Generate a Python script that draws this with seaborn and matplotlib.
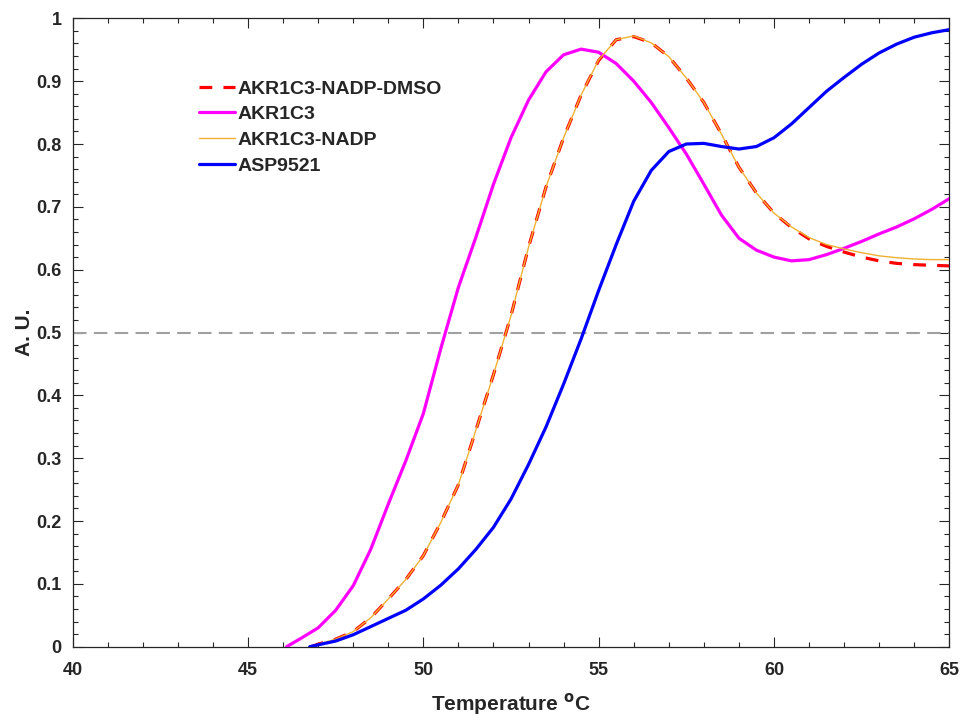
import numpy as np
import pandas as pd
import matplotlib
matplotlib.use('Agg')
import matplotlib.pyplot as plt
import seaborn as sns
from matplotlib.ticker import MultipleLocator

# temperature grid (deg C), 0.5 steps
grid = [47.0, 47.5, 48.0, 48.5, 49.0, 49.5, 50.0, 50.5, 51.0, 51.5, 52.0, 52.5,
        53.0, 53.5, 54.0, 54.5, 55.0, 55.5, 56.0, 56.5, 57.0, 57.5, 58.0, 58.5,
        59.0, 59.5, 60.0, 60.5, 61.0, 61.5, 62.0, 62.5, 63.0, 63.5, 64.0, 64.5, 65.0]

t_akr = [46.1, 46.5] + grid
akr1c3 = [0.0, 0.013, 0.03, 0.058, 0.097, 0.155, 0.227, 0.296, 0.371, 0.475, 0.572, 0.652,
          0.736, 0.81, 0.87, 0.915, 0.942, 0.951, 0.946, 0.928, 0.9, 0.866, 0.826, 0.784,
          0.736, 0.687, 0.65, 0.631, 0.62, 0.614, 0.616, 0.624, 0.634, 0.645, 0.657, 0.668,
          0.681, 0.696, 0.713]

t_nadp = [46.8] + grid
akr1c3_nadp = [0.0, 0.004, 0.012, 0.024, 0.046, 0.076, 0.107, 0.145, 0.198, 0.258, 0.345,
               0.433, 0.527, 0.636, 0.732, 0.81, 0.878, 0.934, 0.966, 0.972, 0.961, 0.939,
               0.905, 0.866, 0.816, 0.763, 0.722, 0.69, 0.668, 0.651, 0.64, 0.633, 0.627,
               0.622, 0.619, 0.617, 0.616, 0.616]

akr1c3_nadp_dmso = [0.0, 0.004, 0.012, 0.024, 0.046, 0.076, 0.107, 0.145, 0.198, 0.258, 0.345,
                    0.433, 0.527, 0.636, 0.732, 0.81, 0.878, 0.933, 0.966, 0.971, 0.961, 0.939,
                    0.905, 0.866, 0.816, 0.763, 0.722, 0.69, 0.667, 0.649, 0.637, 0.628, 0.62,
                    0.614, 0.61, 0.608, 0.607, 0.606]

t_asp = [46.76] + grid
asp9521 = [0.0, 0.003, 0.009, 0.019, 0.032, 0.045, 0.058, 0.076, 0.098, 0.124, 0.155, 0.19,
           0.235, 0.29, 0.35, 0.418, 0.49, 0.567, 0.64, 0.709, 0.758, 0.788, 0.8, 0.801,
           0.796, 0.792, 0.796, 0.81, 0.832, 0.858, 0.884, 0.906, 0.927, 0.945, 0.959, 0.97,
           0.977, 0.982]

sns.set_style('ticks')
plt.rcParams['font.family'] = ['Liberation Sans', 'DejaVu Sans']
plt.rcParams['font.weight'] = 'bold'

fig = plt.figure(figsize=(9.63, 7.16), dpi=100)
ax = fig.add_axes([0.0755, 0.0968, 0.9103, 0.8776])

ink = '#262626'
ax.axhline(0.5, color='#a0a0a0', lw=1.5, dashes=(6.5, 3.5), zorder=1)

sns.lineplot(x=t_nadp, y=akr1c3_nadp_dmso, ax=ax, color='#ff0000', lw=2.3,
             label='AKR1C3-NADP-DMSO', zorder=2).lines[-1].set_dashes((4, 3.5))
sns.lineplot(x=t_akr, y=akr1c3, ax=ax, color='#ff00ff', lw=2.3, label='AKR1C3', zorder=3)
sns.lineplot(x=t_nadp, y=akr1c3_nadp, ax=ax, color='#f0b032', lw=1.0, label='AKR1C3-NADP', zorder=4)
sns.lineplot(x=t_asp, y=asp9521, ax=ax, color='#0000ff', lw=2.3, label='ASP9521', zorder=5)

ax.set_xlim(40, 65)
ax.set_ylim(0, 1)
ax.set_xticks([40, 45, 50, 55, 60, 65])
ax.set_yticks(np.round(np.arange(0, 1.01, 0.1), 1))
ax.set_yticklabels(['0', '0.1', '0.2', '0.3', '0.4', '0.5', '0.6', '0.7', '0.8', '0.9', '1'])
ax.xaxis.set_minor_locator(MultipleLocator(1))
ax.yaxis.set_minor_locator(MultipleLocator(0.02))
ax.tick_params(which='both', direction='in', top=True, right=True, color=ink,
               labelcolor=ink, labelsize=13, width=0.8)
ax.tick_params(which='major', length=7)
ax.tick_params(which='minor', length=3.5)
ax.tick_params(axis='x', which='major', pad=11)
ax.tick_params(axis='y', which='major', pad=8)
for s in ax.spines.values():
    s.set_color(ink)
    s.set_linewidth(0.9)

ax.set_xlabel('Temperature $^{\\mathbf{o}}$C', fontsize=15, fontweight='bold', color=ink, labelpad=9)
ax.set_ylabel('A. U.', fontsize=15, fontweight='bold', color=ink, labelpad=2)

leg = ax.legend(loc='upper left', bbox_to_anchor=(0.144, 0.902), frameon=False,
                fontsize=14, handlelength=1.85, handletextpad=0.15, labelspacing=0.42,
                borderaxespad=0, borderpad=0)
for t in leg.get_texts():
    t.set_fontweight('bold')

fig.savefig('out.png', dpi=100)
